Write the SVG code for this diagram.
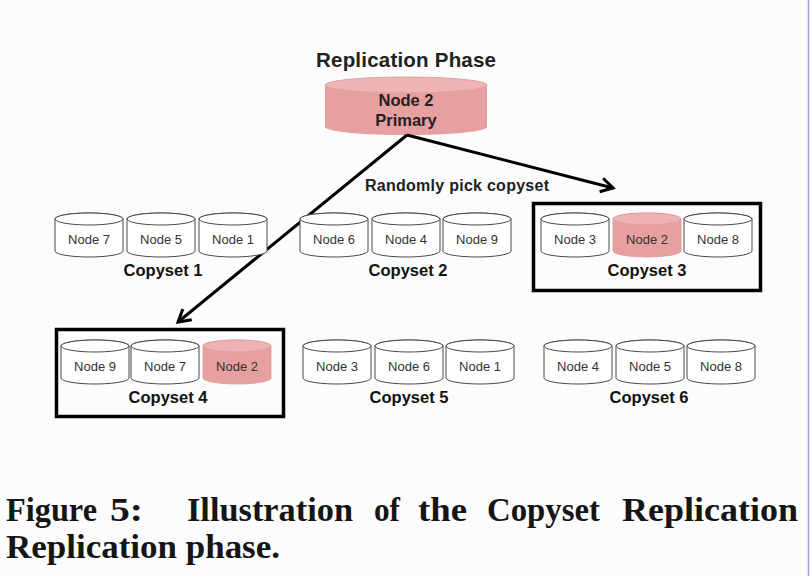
<svg xmlns="http://www.w3.org/2000/svg" width="810" height="576" viewBox="0 0 810 576">
<style>
.t{font-family:"Liberation Sans",Arial,sans-serif;fill:#222}
.nl{font-size:13px;text-anchor:middle;fill:#333}
.cl{font-size:16.5px;font-weight:bold;text-anchor:middle;fill:#111}
.cap{font-family:"Liberation Serif","Times New Roman",serif;font-weight:bold;font-size:34px;fill:#151515}
.box{fill:none;stroke:#000;stroke-width:3.5}
.conn{stroke:#000;stroke-width:3;fill:none}
</style>
<defs>
<g id="cylW">
<path d="M0,6 A34,6 0 0 1 68,6 V38 A34,6 0 0 1 0,38 Z" fill="#fff" stroke="#4a4a4a" stroke-width="1"/>
<ellipse cx="34" cy="6" rx="34" ry="6" fill="#fff" stroke="#4a4a4a" stroke-width="1"/>
</g>
<g id="cylP">
<path d="M0,6 A34,6 0 0 1 68,6 V38 A34,6 0 0 1 0,38 Z" fill="#e6a0a0" stroke="#dc9a9a" stroke-width="0.8"/>
<ellipse cx="34" cy="6" rx="34" ry="6" fill="#eeb2b2" stroke="#dc9a9a" stroke-width="0.8"/>
</g>
<marker id="arr" markerUnits="userSpaceOnUse" markerWidth="20" markerHeight="20" refX="15" refY="9" orient="auto">
<path d="M3,2 L15,9 L3,16" fill="none" stroke="#000" stroke-width="3"/>
</marker>
</defs>
<rect width="810" height="576" fill="#fcfcfc"/>
<line x1="808.5" y1="0" x2="808.5" y2="576" stroke="#a39ddb" stroke-width="1.5"/>

<text class="t" x="406" y="67" font-size="20.5" font-weight="bold" text-anchor="middle" fill="#111" textLength="180">Replication Phase</text>

<g id="primary">
<path d="M325,85 A81,8 0 0 1 487,85 V127 A81,8 0 0 1 325,127 Z" fill="#e6a0a0"/>
<ellipse cx="406" cy="85" rx="81" ry="8" fill="#efb4b4" stroke="#de9c9c" stroke-width="0.8"/>
<text class="t" x="406" y="106" font-size="16.5" font-weight="bold" text-anchor="middle" fill="#222">Node 2</text>
<text class="t" x="406" y="126" font-size="16.5" font-weight="bold" text-anchor="middle" fill="#222">Primary</text>
</g>

<g id="connectors">
<line class="conn" x1="407" y1="135" x2="613" y2="188" marker-end="url(#arr)"/>
<line class="conn" x1="407" y1="135" x2="178" y2="322" marker-end="url(#arr)"/>
<text class="t" x="457" y="191" font-size="16" font-weight="bold" text-anchor="middle" fill="#111" textLength="184">Randomly pick copyset</text>
</g>

<g id="copyset1">
<use href="#cylW" x="55" y="213"/><text class="t nl" x="89" y="244">Node 7</text>
<use href="#cylW" x="127" y="213"/><text class="t nl" x="161" y="244">Node 5</text>
<use href="#cylW" x="199" y="213"/><text class="t nl" x="233" y="244">Node 1</text>
<text class="t cl" x="163" y="276">Copyset 1</text>
</g>

<g id="copyset2">
<use href="#cylW" x="300" y="213"/><text class="t nl" x="334" y="244">Node 6</text>
<use href="#cylW" x="372" y="213"/><text class="t nl" x="406" y="244">Node 4</text>
<use href="#cylW" x="443" y="213"/><text class="t nl" x="477" y="244">Node 9</text>
<text class="t cl" x="408" y="276">Copyset 2</text>
</g>

<g id="copyset3">
<rect class="box" x="533.5" y="203.5" width="227" height="87"/>
<use href="#cylW" x="541" y="213"/><text class="t nl" x="575" y="244">Node 3</text>
<use href="#cylP" x="613" y="213"/><text class="t nl" x="647" y="244">Node 2</text>
<use href="#cylW" x="684" y="213"/><text class="t nl" x="718" y="244">Node 8</text>
<text class="t cl" x="647" y="276">Copyset 3</text>
</g>

<g id="copyset4">
<rect class="box" x="56.5" y="329.5" width="227" height="87"/>
<use href="#cylW" x="61" y="340"/><text class="t nl" x="95" y="371">Node 9</text>
<use href="#cylW" x="131" y="340"/><text class="t nl" x="165" y="371">Node 7</text>
<use href="#cylP" x="203" y="340"/><text class="t nl" x="237" y="371">Node 2</text>
<text class="t cl" x="168" y="403">Copyset 4</text>
</g>

<g id="copyset5">
<use href="#cylW" x="303" y="340"/><text class="t nl" x="337" y="371">Node 3</text>
<use href="#cylW" x="375" y="340"/><text class="t nl" x="409" y="371">Node 6</text>
<use href="#cylW" x="446" y="340"/><text class="t nl" x="480" y="371">Node 1</text>
<text class="t cl" x="409" y="403">Copyset 5</text>
</g>

<g id="copyset6">
<use href="#cylW" x="544" y="340"/><text class="t nl" x="578" y="371">Node 4</text>
<use href="#cylW" x="616" y="340"/><text class="t nl" x="650" y="371">Node 5</text>
<use href="#cylW" x="687" y="340"/><text class="t nl" x="721" y="371">Node 8</text>
<text class="t cl" x="649" y="403">Copyset 6</text>
</g>

<g id="caption">
<text class="cap" x="6" y="521" textLength="91" lengthAdjust="spacingAndGlyphs">Figure</text>
<text class="cap" x="110" y="521" textLength="33" lengthAdjust="spacingAndGlyphs">5:</text>
<text class="cap" x="187" y="521" textLength="166" lengthAdjust="spacingAndGlyphs">Illustration</text>
<text class="cap" x="374" y="521" textLength="26" lengthAdjust="spacingAndGlyphs">of</text>
<text class="cap" x="418" y="521" textLength="49" lengthAdjust="spacingAndGlyphs">the</text>
<text class="cap" x="487" y="521" textLength="113" lengthAdjust="spacingAndGlyphs">Copyset</text>
<text class="cap" x="622" y="521" textLength="176" lengthAdjust="spacingAndGlyphs">Replication</text>
<text class="cap" x="6" y="558" textLength="274" lengthAdjust="spacingAndGlyphs">Replication phase.</text>
</g>
</svg>
